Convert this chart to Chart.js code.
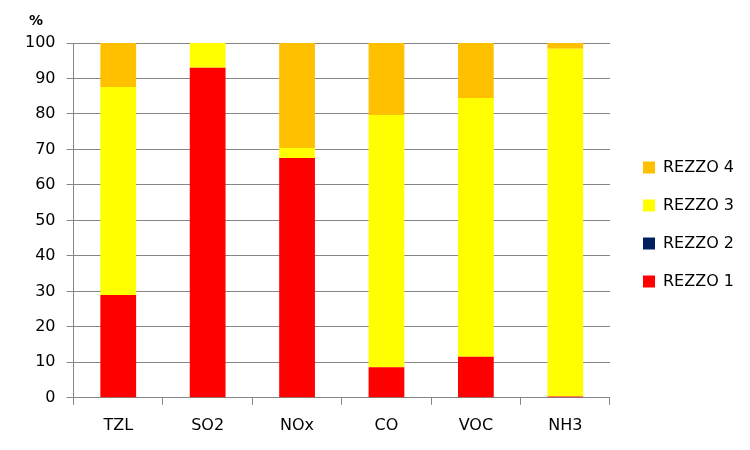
<!DOCTYPE html>
<html>
<head>
<meta charset="utf-8">
<script src="https://cdn.jsdelivr.net/npm/chart.js@4/dist/chart.umd.min.js"></script>
<style>
  body { margin: 0; background: #fff; }
  #wrap { width: 750px; height: 450px; }
</style>
</head>
<body>
<div id="wrap"><canvas id="myChart"></canvas></div>
<script>
// data (percent shares)
var categories = ['TZL', 'SO2', 'NOx', 'CO', 'VOC', 'NH3'];
var rezzo1 = [29, 93, 67.6, 8.6, 11.6, 0.4];
var rezzo2 = [0, 0, 0, 0, 0, 0];
var rezzo3 = [58.6, 7, 2.8, 71.1, 72.9, 98];
var rezzo4 = [12.4, 0, 29.6, 20.3, 15.5, 1.6];
var yTicks = [0, 10, 20, 30, 40, 50, 60, 70, 80, 90, 100];

var fontFamily = '"DejaVu Sans", sans-serif';
var gridColor = '#868686';

// draws the "%" unit label above the y axis, and nudges the legend
var extras = {
    id: 'extras',
    afterLayout: function (chart) {
        var lg = chart.legend;
        lg.left += 11;
        lg.right += 11;
        lg.top -= 20;
        lg.bottom -= 20;
    },
    afterDraw: function (chart) {
        var ctx = chart.ctx;
        ctx.save();
        ctx.font = 'bold 14px ' + fontFamily;
        ctx.fillStyle = '#000';
        ctx.textAlign = 'center';
        ctx.textBaseline = 'middle';
        ctx.fillText('%', 36, 21);
        ctx.restore();
    }
};

var ctx = document.getElementById('myChart').getContext('2d');
var chart = new Chart(ctx, {
    type: 'bar',
    data: {
        labels: categories,
        datasets: [
            { label: 'REZZO 1', data: rezzo1, backgroundColor: '#FF0000' },
            { label: 'REZZO 2', data: rezzo2, backgroundColor: '#002060' },
            { label: 'REZZO 3', data: rezzo3, backgroundColor: '#FFFF00' },
            { label: 'REZZO 4', data: rezzo4, backgroundColor: '#FFC000' }
        ]
    },
    options: {
        responsive: true,
        maintainAspectRatio: false,
        animation: false,
        layout: { padding: { left: 14, right: 17, top: 43, bottom: 4 } },
        datasets: { bar: { barPercentage: 0.4, categoryPercentage: 1 } },
        scales: {
            x: {
                stacked: true,
                grid: { offset: true, drawOnChartArea: false, color: gridColor, tickLength: 7 },
                border: { color: gridColor },
                ticks: { color: '#000', font: { family: fontFamily, size: 16 }, padding: 11 }
            },
            y: {
                stacked: true,
                min: 0,
                max: 100,
                afterBuildTicks: function (axis) {
                    axis.ticks = yTicks.map(function (v) { return { value: v }; });
                },
                grid: { color: gridColor, tickLength: 7 },
                border: { color: gridColor },
                ticks: { color: '#000', font: { family: fontFamily, size: 16 }, padding: 11 }
            }
        },
        plugins: {
            legend: {
                position: 'right',
                reverse: true,
                labels: {
                    boxWidth: 12,
                    boxHeight: 12,
                    padding: 22,
                    color: '#000',
                    font: { family: fontFamily, size: 16 }
                }
            },
            tooltip: { enabled: false }
        }
    },
    plugins: [extras]
});
</script>
</body>
</html>
